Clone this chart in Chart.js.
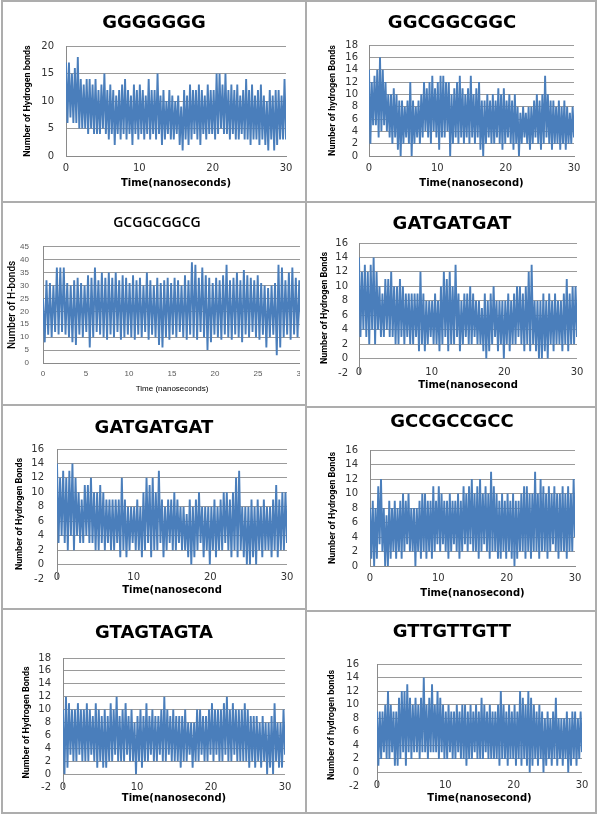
<!DOCTYPE html>
<html>
<head>
<meta charset="utf-8">
<script src="https://cdn.jsdelivr.net/npm/chart.js@4"></script>
<style>
html, body { margin: 0; padding: 0; background: #fff; }
body { width: 600px; height: 818px; position: relative; overflow: hidden; }
.rule { position: absolute; background: #adadad; }
.ttl { position: absolute; transform: translate(-50%, -50%); white-space: nowrap; color: #000; }
.box { position: absolute; overflow: hidden; }
.box canvas { position: absolute; left: 0; top: 0; }
</style>
</head>
<body>
<script>
// Each series is kept as the local highs and lows of the hydrogen-bond count,
// read off the picture every 0.4 ns (75 windows over 0-30 ns).

// GGGGGGG
const g7Max = [17,17,15,16,18,14,13,14,14,13, 14,12,13,15,12,13,12,11,12,13, 14,12,11,13,12,13,12,11,14,12,
               12,15,11,12,10,12,11,10,11,9, 12,11,13,12,12,13,12,11,13,12, 12,15,15,13,15,12,13,12,13,11,
               12,14,12,13,11,12,13,11,10,12, 11,12,12,11,14];
const g7Min = [6,7,6,6,5,5,5,4,5,4, 4,4,5,4,3,4,2,4,3,4, 3,4,2,4,3,4,3,4,3,4,
               3,4,2,3,4,3,3,4,2,1, 3,2,3,4,3,2,4,3,4,4, 3,4,5,4,4,3,4,3,3,4,
               3,3,2,3,3,2,3,2,1,3, 1,2,3,3,3];

// GGCGGCGGC
const ggcMax = [14,12,13,14,16,14,12,10,10,11, 10,9,9,8,9,12,9,8,9,10, 12,11,12,13,11,12,13,13,12,12,
                10,11,12,13,11,10,11,13,10,11, 12,9,9,10,9,10,9,11,10,11, 9,10,9,10,8,7,8,7,8,8,
                9,10,9,10,13,10,9,9,8,9, 8,9,8,7,8];
const ggcMin = [2,5,5,3,4,5,4,3,2,3, 1,0,2,3,2,0,2,3,2,3, 4,3,2,4,3,1,3,3,4,0,
                2,3,2,3,2,3,2,3,2,3, 1,0,2,3,2,2,3,2,1,2, 3,2,1,2,0,2,3,2,1,2,
                3,2,1,2,3,2,1,2,2,1, 2,1,2,2,3];

// GCGGCGGCG
const gcgMax = [25,32,31,30,37,37,37,31,30,32, 33,31,30,34,33,37,32,35,33,35, 33,35,32,34,33,31,34,32,33,30,
                35,32,30,33,31,32,33,31,33,32, 30,34,32,39,38,33,37,34,33,31, 33,32,34,38,32,33,35,32,36,34,
                33,32,34,31,30,29,30,31,38,37, 32,35,37,33,32];
const gcgMin = [8,11,10,12,11,12,11,10,8,7, 11,10,12,6,10,12,11,10,9,11, 10,12,9,10,11,10,9,11,10,12,
                9,11,10,7,6,10,9,11,10,12, 10,9,11,10,9,12,10,5,8,11, 10,9,11,10,9,11,10,8,11,10,
                12,10,9,11,6,10,11,3,6,10, 11,9,11,10,12];

// GATGATGAT (shown twice in the figure)
const gatMax = [14,12,13,12,13,14,12,10,9,11, 11,12,10,10,11,10,9,9,9,9, 9,12,9,8,8,8,9,8,10,12,
                11,12,10,13,9,8,9,9,10,9, 8,8,7,9,8,9,10,8,8,8, 8,9,8,9,10,10,9,10,12,13,
                8,8,8,9,8,9,8,9,8,8, 9,11,9,10,10];
const gatMin = [3,4,3,2,4,2,4,3,3,4, 3,3,2,2,3,2,3,2,2,3, 1,2,1,2,3,2,2,1,2,3,
                1,2,2,3,1,2,3,2,2,3, 2,2,1,0,1,2,3,1,2,0, 2,1,2,2,3,2,1,2,1,2,
                1,0,0,1,0,2,1,2,2,1, 2,1,2,2,3];

// GCCGCCGCC
const gccMax = [8,9,8,11,12,8,7,9,8,9, 8,9,10,9,10,8,8,8,9,10, 10,9,9,11,9,11,10,9,9,10,
                9,9,10,9,11,10,11,12,10,11, 12,10,11,10,13,11,10,9,10,9, 10,9,10,9,9,10,11,11,10,10,
                13,10,12,11,10,11,10,11,10,10, 11,10,11,10,12];
const gccMin = [1,0,1,3,2,0,0,1,2,1, 2,1,2,3,2,2,0,2,1,2, 1,2,1,2,3,2,3,2,1,2,
                3,2,1,2,3,2,3,2,2,1, 2,3,2,1,2,2,1,1,2,1, 2,1,0,1,2,2,1,2,1,2,
                2,1,2,2,1,2,3,2,1,2, 2,1,2,2,4];

// GTAGTAGTA
const gtaMax = [10,12,11,10,10,11,10,10,11,10, 9,11,10,9,10,9,11,10,12,9, 10,11,9,10,8,9,10,9,11,9,
                10,9,9,10,12,10,9,10,9,9, 9,10,8,8,8,10,10,9,9,10, 11,10,10,10,11,12,10,11,10,10,
                10,11,10,9,9,9,8,9,8,8, 9,11,8,8,10];
const gtaMin = [0,1,3,2,2,3,2,2,2,3, 2,1,2,1,1,2,2,3,2,2, 2,3,2,2,0,2,1,2,2,3,
                2,2,3,2,2,3,2,2,2,1, 2,2,3,1,2,2,3,2,2,3, 2,3,2,2,3,2,2,3,2,2,
                2,2,1,2,1,2,1,2,0,1, 0,2,1,1,3];

// GTTGTTGTT
const gttMax = [9,9,9,10,12,10,9,9,11,12, 12,13,11,10,11,10,11,14,10,11, 13,10,12,11,10,9,10,9,9,10,
                9,10,10,9,10,9,10,9,11,10, 9,10,9,9,10,12,10,9,10,9, 10,9,12,11,10,12,11,10,9,10,
                9,8,9,8,9,11,8,8,8,9, 8,9,9,8,9];
const gttMin = [1,2,3,2,2,3,1,1,2,3, 1,3,2,3,3,2,3,3,2,3, 3,3,2,3,2,2,3,2,2,3,
                2,2,1,2,2,3,2,2,2,3, 2,2,2,2,1,2,2,1,2,2, 1,2,1,2,1,0,1,2,1,2,
                0,1,2,1,2,1,2,1,2,0, 1,2,1,2,3];

const T_END = 30; // ns

const BLUE = '#4a7ebb';
const GRID = '#9a9a9a';
const AXIS = '#8a8a8a';

// turn a list of window highs/lows into the plotted trace
function trace(hi, lo) {
    const n = hi.length;
    const dt = T_END / (2 * n - 1);
    const pts = [];
    for (let i = 0; i < n; i++) {
        pts.push({ x: 2 * i * dt, y: hi[i] });
        pts.push({ x: (2 * i + 1) * dt, y: lo[i] });
    }
    return pts;
}

const bigTitle = 'bold 18px "DejaVu Sans", sans-serif';
const tickFont = { family: '"DejaVu Sans", sans-serif', size: 10 };
const smallTick = { family: '"Liberation Sans", Arial, sans-serif', size: 8 };
const yTitleFont = { family: 'Roboto, "Liberation Sans", sans-serif', size: 9, weight: 'bold' };
const xTitleFont = { family: '"DejaVu Sans", sans-serif', size: 10, weight: 'bold' };

// box = canvas rect [x, y, w, h], plot = chart area [left, top, right, bottom] in page px
const panels = [
    { title: 'GGGGGGG', tx: 154, ty: 21, hi: g7Max, lo: g7Min, ymin: 0, ymax: 20, ystep: 5, xstep: 10,
      yTitle: 'Number of Hydrogen bonds', xTitle: 'Time(nanoseconds)',
      box: [4, 28, 300, 172], plot: [66, 42, 286, 156], xTickY: 168, xTitleY: 183, yTitleX: 28, yGap: 12 },
    { title: 'GGCGGCGGC', tx: 452, ty: 21, hi: ggcMax, lo: ggcMin, ymin: 0, ymax: 18, ystep: 2, xstep: 10,
      yTitle: 'Number of hydrogen Bonds', xTitle: 'Time(nanosecond)',
      box: [308, 28, 286, 172], plot: [369, 42, 574, 156], xTickY: 168, xTitleY: 183, yTitleX: 333, yGap: 11 },
    { title: 'GCGGCGGCG', tx: 157, ty: 221, hi: gcgMax, lo: gcgMin, ymin: 0, ymax: 45, ystep: 5, xstep: 5,
      yTitle: 'Number of H-bonds', xTitle: 'Time (nanoseconds)', light: true,
      box: [4, 228, 296, 175], cw: 330, plot: [43, 243, 301, 363], xTickY: 374, xTitleY: 389, yTitleX: 12, yGap: 14 },
    { title: 'GATGATGAT', tx: 452, ty: 222, hi: gatMax, lo: gatMin, ymin: -2, ymax: 16, ystep: 2, xstep: 10,
      yTitle: 'Number of Hydrogen Bonds', xTitle: 'Time(nanosecond',
      box: [308, 226, 286, 176], plot: [359, 238, 577, 373], xTickY: 372, xTitleY: 385, yTitleX: 325, yGap: 11 },
    { title: 'GATGATGAT', tx: 154, ty: 426, hi: gatMax, lo: gatMin, ymin: -2, ymax: 16, ystep: 2, xstep: 10,
      yTitle: 'Number of Hydrogen Bonds', xTitle: 'Time(nanosecond',
      box: [4, 430, 300, 175], plot: [57, 442, 287, 579], xTickY: 577, xTitleY: 590, yTitleX: 20, yGap: 13 },
    { title: 'GCCGCCGCC', tx: 452, ty: 420, hi: gccMax, lo: gccMin, ymin: 0, ymax: 16, ystep: 2, xstep: 10,
      yTitle: 'Number of Hydrogen Bonds', xTitle: 'Time(nanosecond)',
      box: [308, 432, 286, 175], plot: [370, 447, 575, 566], xTickY: 578, xTitleY: 593, yTitleX: 333, yGap: 12 },
    { title: 'GTAGTAGTA', tx: 154, ty: 631, hi: gtaMax, lo: gtaMin, ymin: -2, ymax: 18, ystep: 2, xstep: 10,
      yTitle: 'Number of Hydrogen Bonds', xTitle: 'Time(nanosecond)',
      box: [4, 640, 300, 170], plot: [63, 652, 285, 787], xTickY: 787, xTitleY: 798, yTitleX: 27, yGap: 12 },
    { title: 'GTTGTTGTT', tx: 452, ty: 630, hi: gttMax, lo: gttMin, ymin: -2, ymax: 16, ystep: 2, xstep: 10,
      yTitle: 'Number of hydrogen bonds', xTitle: 'Time(nanosecond)',
      box: [308, 640, 286, 170], plot: [377, 653, 582, 788], xTickY: 787, xTitleY: 800, yTitleX: 332, yGap: 18 }
];

// panel frame lines: [x, y, w, h]
const rules = [
    [1, 0, 596, 2], [1, 0, 2, 814], [305, 0, 2, 814], [595, 0, 2, 814],
    [1, 201, 306, 2], [1, 404, 306, 2], [1, 608, 306, 2], [1, 812, 306, 2],
    [305, 201, 292, 2], [305, 406, 292, 2], [305, 610, 292, 2], [305, 812, 292, 2]
];
rules.forEach(r => {
    const d = document.createElement('div');
    d.className = 'rule';
    d.style.cssText = `left:${r[0]}px;top:${r[1]}px;width:${r[2]}px;height:${r[3]}px;`;
    document.body.appendChild(d);
});

panels.forEach(p => {
    const [bx, by, bw, bh] = p.box;
    const cw = p.cw || bw;
    const [L, T, R, B] = p.plot;

    const wrap = document.createElement('div');
    wrap.className = 'box';
    wrap.style.cssText = `left:${bx}px;top:${by}px;width:${bw}px;height:${bh}px;`;
    const cv = document.createElement('canvas');
    cv.width = cw;
    cv.height = bh;
    wrap.appendChild(cv);
    document.body.appendChild(wrap);

    const t = document.createElement('div');
    t.className = 'ttl';
    t.textContent = p.title;
    t.style.left = p.tx + 'px';
    t.style.top = p.ty + 'px';
    t.style.font = p.light ? '600 14px "Open Sans", sans-serif' : bigTitle;
    document.body.appendChild(t);

    const tf = p.light ? smallTick : tickFont;
    const tickColor = p.light ? '#595959' : '#333333';
    const yTf = p.light ? { family: 'Roboto, sans-serif', size: 10, weight: '500' } : yTitleFont;
    const xTf = p.light ? { family: '"Liberation Sans", Arial, sans-serif', size: 8 } : xTitleFont;

    new Chart(cv, {
        type: 'line',
        data: {
            datasets: [{
                data: trace(p.hi, p.lo),
                borderColor: BLUE,
                borderWidth: 1.9,
                pointRadius: 0,
                tension: 0,
                fill: false
            }]
        },
        options: {
            responsive: false,
            animation: false,
            events: [],
            layout: { padding: { left: 0, top: T - by, right: bx + cw - R, bottom: 0 } },
            plugins: { legend: { display: false }, tooltip: { enabled: false } },
            scales: {
                x: {
                    type: 'linear',
                    min: 0,
                    max: T_END,
                    ticks: {
                        stepSize: p.xstep,
                        autoSkip: false,
                        maxRotation: 0,
                        // mirrored labels are not clipped to the axis box, so they may sit
                        // level with the -2 row like the spreadsheet does
                        mirror: true,
                        padding: B - p.xTickY - tf.size * 0.6,
                        font: tf,
                        color: tickColor
                    },
                    grid: { color: 'rgba(0,0,0,0)', drawTicks: false },
                    border: { display: p.ymin === 0, color: AXIS },
                    title: {
                        display: true,
                        text: p.xTitle,
                        font: xTf,
                        color: '#000',
                        padding: { top: 0, bottom: by + bh - p.xTitleY - xTf.size * 0.6 }
                    },
                    afterFit: s => { s.height = by + bh - B; }
                },
                y: {
                    min: p.ymin,
                    max: p.ymax,
                    ticks: { stepSize: p.ystep, autoSkip: false, padding: p.yGap, font: tf, color: tickColor },
                    grid: {
                        color: c => (c.tick && c.tick.value < 0) ? 'rgba(0,0,0,0)' : GRID,
                        drawTicks: false
                    },
                    border: { color: AXIS },
                    title: {
                        display: true,
                        text: p.yTitle,
                        font: yTf,
                        color: '#000',
                        padding: { top: p.yTitleX - bx - yTf.size * 0.6, bottom: 0 }
                    },
                    afterFit: s => { s.width = L - bx; }
                }
            }
        }
    });
});
</script>
</body>
</html>
